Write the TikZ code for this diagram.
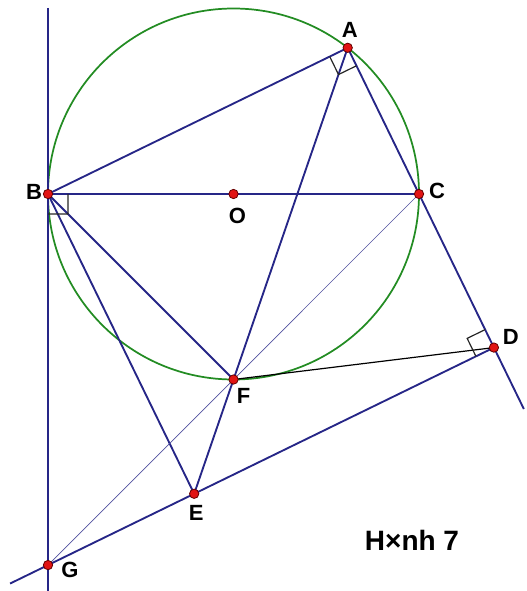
\documentclass[tikz,border=0pt]{standalone}
\usepackage{fontspec}
\setmainfont{Liberation Sans}
\usetikzlibrary{calc}
\definecolor{linenavy}{RGB}{38,38,135}
\definecolor{circgreen}{RGB}{35,140,35}
\definecolor{dotred}{RGB}{225,20,20}

\begin{document}
\begin{tikzpicture}[
  x=0.75pt, y=-0.75pt,
  seg/.style={linenavy, line width=1.4pt},
  thinseg/.style={linenavy!80, line width=0.5pt},
  blackseg/.style={black, line width=0.9pt},
  rightmark/.style={black!85, line width=0.9pt},
  circ/.style={circgreen, line width=1.3pt},
  dot/.style={circle, fill=dotred, draw=black!60!red, line width=0.6pt, inner sep=0pt, minimum size=7pt},
  lbl/.style={font=\fontsize{16.5}{19}\selectfont\bfseries, inner sep=1pt},
]
\useasboundingbox (0,0) rectangle (526,591);

% points
\coordinate (O) at (233.5,194);
\coordinate (B) at (48,194);
\coordinate (C) at (419,194);
\coordinate (A) at ($(O)+(114.2,-146.2)$);
\coordinate (F) at ($(O)+(0,185.5)$);
\coordinate (Bt) at ($(B)+(0,-186)$);
\coordinate (Bb) at ($(B)+(0,397)$);
\coordinate (G) at (intersection of C--F and Bt--Bb);
\coordinate (D) at ($(A)!(G)!(C)$);
\coordinate (E) at (intersection of A--F and G--D);
\coordinate (Dx) at ($(C)!1.4!(D)$);
\coordinate (Gx) at ($(D)!1.085!(G)$);

% circle and lines
\draw[circ] (O) circle[radius=185.5];
\draw[seg] (Bt) -- (Bb);
\draw[seg] (A) -- (B) -- (C) -- (A);
\draw[seg] (C) -- (Dx);
\draw[seg] (A) -- (E);
\draw[seg] (B) -- (F);
\draw[seg] (B) -- (E);
\draw[seg] (Gx) -- (D);
\draw[thinseg] (G) -- (C);
\draw[blackseg] (F) -- (D);

% right angles
\foreach \v/\p/\q in {A/B/C, B/C/G, D/C/G}{
  \coordinate (\v1) at ($(\v)!15pt!(\p)$);
  \coordinate (\v2) at ($(\v)!15pt!(\q)$);
  \draw[rightmark] (\v1) -- ($(\v1)+(\v2)-(\v)$) -- (\v2);
}

% dots
\foreach \p in {A,B,C,O,D,F,E,G}
  \node[dot] (d\p) at (\p) {};

% labels
\node[lbl] (lA) at ($(A)+(2,-18)$) {A};
\node[lbl] (lB) at ($(B)+(-14,-2)$) {B};
\node[lbl] (lC) at ($(C)+(18,-3)$) {C};
\node[lbl] (lO) at ($(O)+(4,22)$) {O};
\node[lbl] (lD) at ($(D)+(17,-11)$) {D};
\node[lbl] (lF) at ($(F)+(10,16)$) {F};
\node[lbl] (lE) at ($(E)+(2,19)$) {E};
\node[lbl] (lG) at ($(G)+(22,5)$) {G};

\node[font=\fontsize{21}{25}\selectfont\bfseries] (title) at (412,540) {H×nh 7};
\end{tikzpicture}
\end{document}
